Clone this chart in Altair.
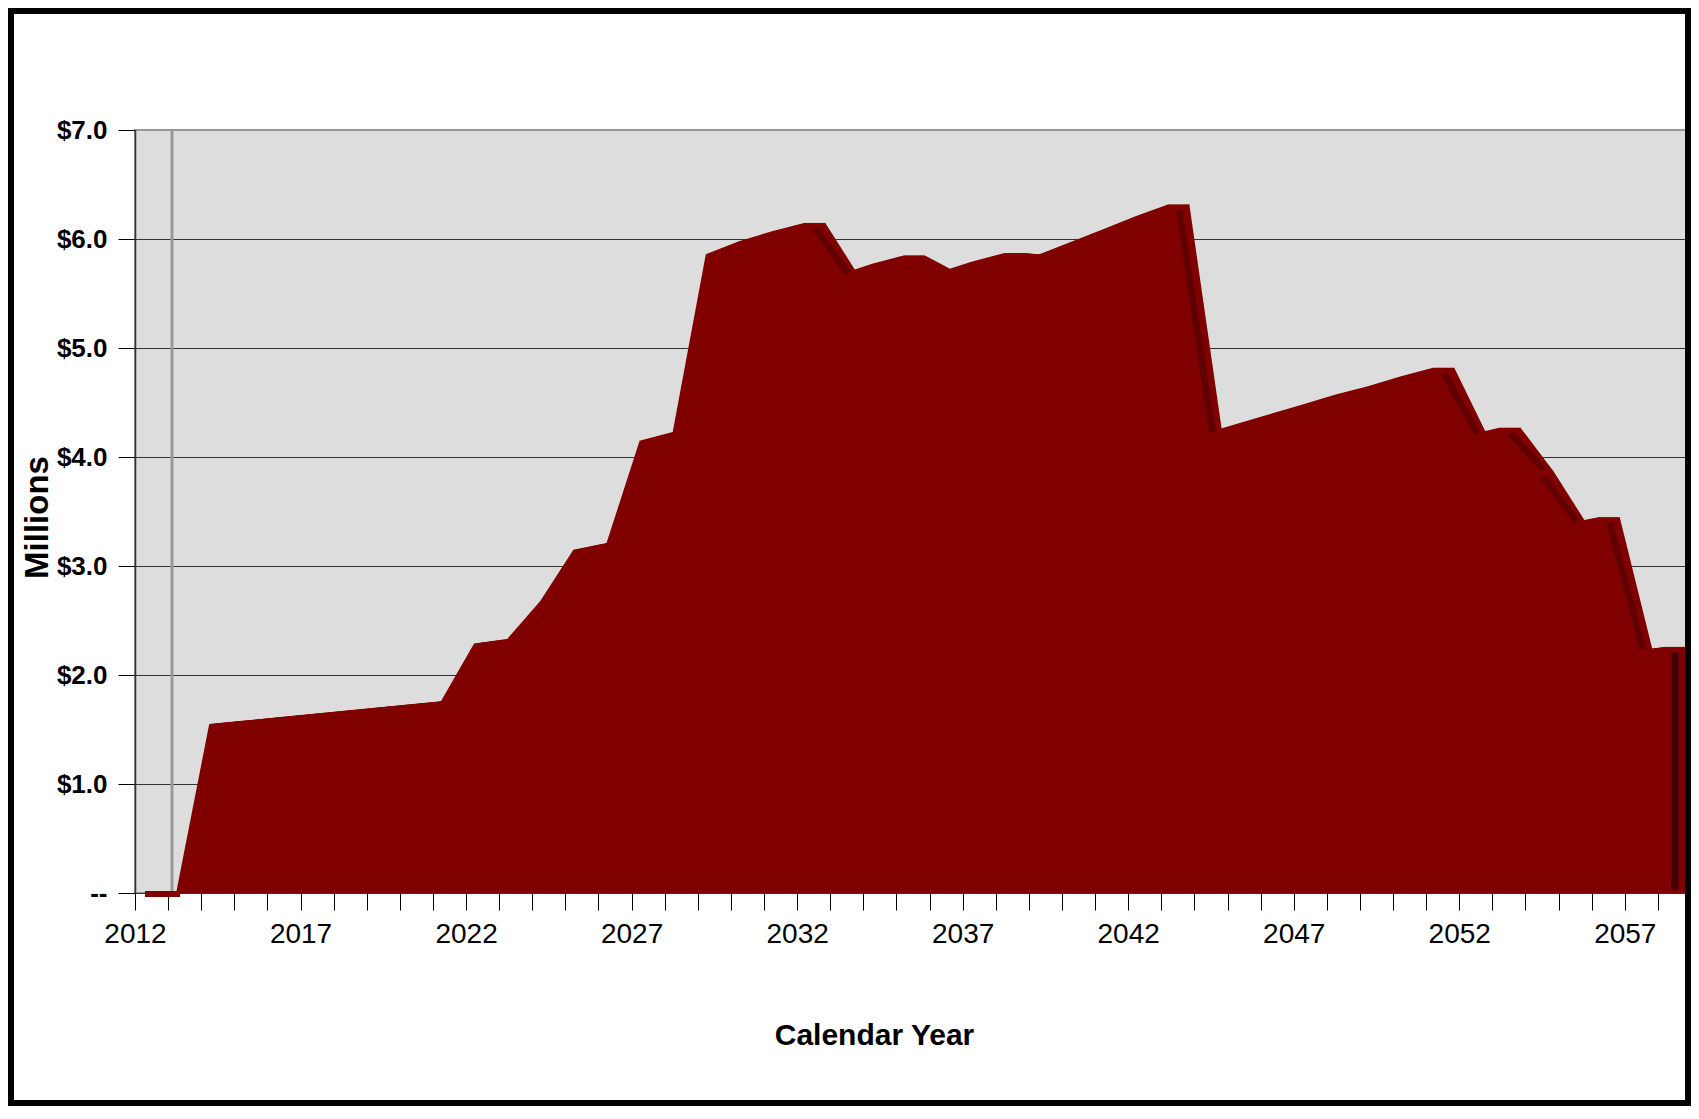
import altair as alt
import pandas as pd

# ---- data ----
years = list(range(2012, 2059))
values = [
    0.00, 0.00, 1.55, 1.58, 1.61, 1.64, 1.67, 1.70, 1.73, 1.76,   # 2012-2021
    2.29, 2.33, 2.68, 3.15, 3.21, 4.15, 4.23, 5.86, 5.98, 6.07,   # 2022-2031
    6.15, 5.67, 5.77, 5.85, 5.69, 5.79, 5.87, 5.85, 5.97, 6.09,   # 2032-2041
    6.21, 6.32, 4.21, 4.30, 4.39, 4.48, 4.57, 4.65, 4.74, 4.82,   # 2042-2051
    4.20, 4.27, 3.87, 3.39, 3.45, 2.22, 2.26,                     # 2052-2058
]
y_ticks = [0, 1, 2, 3, 4, 5, 6, 7]
x_ticks = list(range(2012, 2059))

df = pd.DataFrame({"year": years, "value": values})

FONT = "Liberation Sans"
RED = "#800000"
W, H = 1556, 763

x_scale = alt.Scale(domain=[2012, 2059], nice=False, zero=False)
y_scale = alt.Scale(domain=[0, 7], nice=False, zero=True)

x_axis = alt.Axis(
    values=x_ticks,
    labelExpr="(datum.value - 2012) % 5 == 0 ? '' + datum.value : ''",
    labelFont=FONT, labelFontSize=28, labelColor="black",
    labelBaseline="alphabetic", labelPadding=32, labelFlush=False, labelOverlap=False,
    tickSize=17, tickColor="black", tickWidth=1,
    grid=False, domain=False,
    title="Calendar Year", titleFont=FONT, titleFontSize=30, titleFontWeight="bold",
    titleColor="black", titleX=739, titleY=151, titleBaseline="alphabetic", titleAlign="center",
)
y_axis = alt.Axis(
    values=y_ticks,
    labelExpr="datum.value == 0 ? '--' : '$' + format(datum.value, '.1f')",
    labelFont=FONT, labelFontSize=26, labelFontWeight="bold", labelColor="black",
    labelPadding=11, labelFlush=False,
    tickSize=17, tickColor="black", tickWidth=1,
    domainColor="#333333", domainWidth=1.5,
    grid=True, gridWidth=1.2,
    gridColor={"condition": {"test": "datum.value === 7", "value": "#999999"}, "value": "#333333"},
    title="Millions", titleFont=FONT, titleFontSize=33, titleFontWeight="bold",
    titleColor="black", titleAngle=270, titleX=-88, titleY=387,
    titleBaseline="alphabetic", titleAlign="center",
)

X = alt.X("year:Q", scale=x_scale, axis=x_axis)
Y = alt.Y("value:Q", scale=y_scale, axis=y_axis)

base = alt.Chart(df)

wall = alt.Chart(alt.Data(values=[{}])).mark_rule(color="#999999", strokeWidth=3).encode(
    x=alt.value(37), y=alt.value(0), y2=alt.value(H)
)

# 3-D slab: sweep of the same area from the front face (+8px) to the back face (+28px)
slab = [
    base.mark_area(color=RED, xOffset=off).encode(x=X, y=Y)
    for off in range(8, 30, 2)
]

segments = base.transform_window(
    window=[
        alt.WindowFieldDef(op="lead", field="value", **{"as": "next_value"}),
        alt.WindowFieldDef(op="lead", field="year", **{"as": "next_year"}),
    ],
    sort=[alt.SortField("year")],
)

zero_bar = segments.transform_filter(
    "datum.value == 0 && datum.next_value == 0"
).mark_rule(color=RED, strokeWidth=6, xOffset=10, x2Offset=12, yOffset=1, y2Offset=1).encode(
    x=X, x2="next_year:Q", y=Y, y2="next_value:Q",
)

drops = segments.transform_filter(
    "datum.next_value != null && datum.value - datum.next_value > 0.2"
).mark_rule(color="#600000", strokeWidth=6.5, xOffset=18, x2Offset=18, yOffset=6, y2Offset=-2).encode(
    x=X, x2="next_year:Q", y=Y, y2="next_value:Q",
)

end_strip = segments.transform_filter("datum.next_value == null").transform_calculate(
    zero="0"
).mark_rule(color="#400000", strokeWidth=7, xOffset=17, yOffset=6, y2Offset=-3).encode(
    x=X, y=Y, y2="zero:Q",
)

border = alt.Chart(alt.Data(values=[{}])).mark_rect(
    filled=False, stroke="black", strokeWidth=6
).encode(
    x=alt.value(-124), x2=alt.value(1553), y=alt.value(-119), y2=alt.value(973)
)

chart = alt.layer(wall, *slab, zero_bar, drops, end_strip, border).properties(
    width=W,
    height=H,
    autosize="none",
    padding={"left": 127, "top": 122, "right": 0, "bottom": 213},
    background="white",
).configure_view(
    fill="#DDDDDD", stroke="#999999", strokeWidth=2
)

chart.save("out.html", embed_options={"renderer": "svg", "actions": False})
